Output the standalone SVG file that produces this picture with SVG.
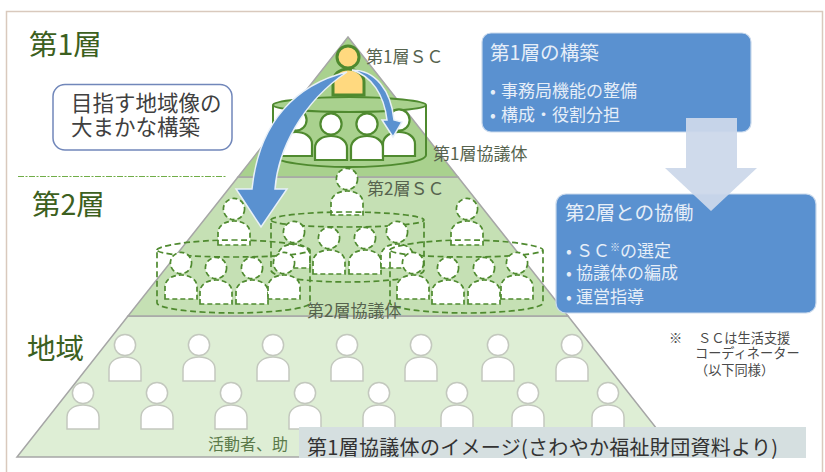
<svg xmlns="http://www.w3.org/2000/svg" width="825" height="472" viewBox="0 0 825 472">
<style>
text{font-family:"Noto Sans CJK JP","Noto Sans",sans-serif}
.s{fill:#fff;stroke:#4f8a2f;stroke-width:2.2}
.d{fill:#fff;stroke:#4f8a2f;stroke-width:1.7;stroke-dasharray:5 3}
.l{fill:#fff;stroke:#c3c8be;stroke-width:1.5}
.cs{fill:none;stroke:#4f8a2f;stroke-width:2}
.cd{fill:none;stroke:#4f8a2f;stroke-width:1.7;stroke-dasharray:6 3.5}
.lay{stroke:#a6a6a6;stroke-width:1.5}
.box{fill:#5a91d0;stroke:#c9d9ec;stroke-width:1.2}
.w{fill:#e6eef8;font-size:17px}
.h{fill:#e6eef8;font-size:19.6px}
.t{fill:#3c6020;font-size:28.5px}
.g{fill:#56634e;font-size:17px}
.n{fill:#4a4a4a;font-size:13.2px}
.blue{fill:#5a91d0;stroke:#e8f0f8;stroke-width:1.5}
</style>
<defs>
<g id="p"><circle r="10.6"/><path d="M-16,36V24C-16,16-8,12 0,12C8,12 16,16 16,24V36Z"/></g>
</defs>
<rect width="825" height="472" fill="#fff"/>
<path d="M6.5,472V11.5H822.5V472" fill="none" stroke="#d9c9bd" stroke-width="1.5"/>
<g id="pyramid">
<path class="lay" fill="#deeed5" d="M128,316H568L679,457H17Z"/>
<path class="lay" fill="#c5e0b4" d="M238,177H458L568,316H128Z"/>
<path class="lay" fill="#a9d18e" d="M348,37L458,177H238Z"/>
</g>
<path id="divider" d="M18,176.500H227" stroke="#70ad47" stroke-width="1" stroke-dasharray="6 1.500 2 1.500" fill="none"/>
<g id="tier3-people" class="l">
<g id="r1" class="l">
<use href="#p" x="125" y="345"/><use href="#p" x="199" y="345"/><use href="#p" x="273" y="345"/><use href="#p" x="347" y="345"/><use href="#p" x="421" y="345"/><use href="#p" x="498" y="345"/><use href="#p" x="572" y="345"/>
</g>
<g id="r2" class="l">
<use href="#p" x="83" y="393"/><use href="#p" x="157" y="393"/><use href="#p" x="231" y="393"/><use href="#p" x="305" y="393"/><use href="#p" x="379" y="393"/><use href="#p" x="457" y="393"/><use href="#p" x="528" y="393"/><use href="#p" x="608" y="393"/>
</g>
</g>
<g id="tier1-council">
<path fill="#a9d18e" d="M273,105C273,101 310,97 349.500,97S426,101 426,105C426,109 390,112 349.500,112S273,109 273,105Z"/>
<path class="cs" d="M273,105C273,101 310,97 349.500,97S426,101 426,105C426,109 390,112 349.500,112S273,109 273,105V155C273,162 310,167 349.500,167S426,162 426,155V105"/>
<g class="s">
<use href="#p" x="296" y="120"/><use href="#p" x="331" y="124"/><use href="#p" x="367" y="124"/><use href="#p" x="399" y="120"/>
</g>
</g>
<g id="sc1" style="fill:#ffd97f;stroke:#4f8a2f;stroke-width:3">
<circle cx="348" cy="57" r="11"/>
<path d="M333,95V82C333,74 340,69 348,69C356,69 364,74 364,82V95Z"/>
</g>
<g id="sc2" class="d"><use href="#p" x="347" y="179"/></g>
<g id="tier2-side" class="d"><use href="#p" x="234" y="209"/><use href="#p" x="467" y="209"/></g>
<g id="council-center">
<path class="cd" d="M271,220C271,216 305,212 347.500,212S424,216 424,220C424,224 390,227 347.500,227S271,224 271,220V270C271,277 305,282 347.500,282S424,277 424,270V220"/>
<g class="d"><use href="#p" x="294" y="232"/><use href="#p" x="329" y="238"/><use href="#p" x="365" y="238"/><use href="#p" x="397" y="232"/></g>
</g>
<g id="council-left">
<path class="cd" d="M157,250C157,246 191,240 233.500,240S310,246 310,250C310,254 276,257 233.500,257S157,254 157,250V303C157,308 191,313 233.500,313S310,308 310,303V250"/>
<g class="d"><use href="#p" x="181" y="263"/><use href="#p" x="216" y="268"/><use href="#p" x="252" y="268"/><use href="#p" x="284" y="263"/></g>
</g>
<g id="council-right">
<path class="cd" d="M390,250C390,246 424,240 466.500,240S543,246 543,250C543,254 509,257 466.500,257S390,254 390,250V303C390,308 424,313 466.500,313S543,308 543,303V250"/>
<g class="d"><use href="#p" x="413" y="263"/><use href="#p" x="448" y="268"/><use href="#p" x="484" y="268"/><use href="#p" x="517" y="263"/></g>
</g>
<g id="connectors">
<path class="blue" d="M347,72C298,84 259,120 252,189H236L261,227L287,189H275C278,150 302,102 347,72Z"/>
<path class="blue" d="M352,70C375,70 391,90 394,120L402,122L393,137L382,120H387C384,95 372,76 352,70Z"/>
</g>
<g id="labels">
<text class="t" x="29" y="55">第1層</text>
<text class="t" x="32" y="215">第2層</text>
<text class="t" x="27" y="359">地域</text>
<text class="g" x="366" y="63">第1層ＳＣ</text>
<text class="g" x="433" y="160">第1層協議体</text>
<text class="g" x="367" y="195">第2層ＳＣ</text>
<text class="g" x="307" y="317">第2層協議体</text>
<text x="208" y="450" fill="#5b7a4a" font-size="16px">活動者、助</text>
</g>
<g id="goal">
<rect x="53" y="84.500" width="179" height="65.500" rx="12" fill="#fff" stroke="#7187ba" stroke-width="1.500"/>
<text x="71" y="111" font-size="21.500px" fill="#404040">目指す地域像の</text>
<text x="71" y="135" font-size="21.500px" fill="#404040">大まかな構築</text>
</g>
<g id="box1">
<rect class="box" x="482" y="33" width="269" height="99" rx="9"/>
<text class="h" x="490" y="60">第1層の構築</text>
<text class="w" x="490" y="97">•<tspan x="501">事務局機能の整備</tspan></text>
<text class="w" x="490" y="121">•<tspan x="501">構成・役割分担</tspan></text>
</g>
<g id="box2">
<rect class="box" x="556" y="194" width="260" height="119" rx="10"/>
<text class="h" x="565" y="220">第2層との協働</text>
<text class="w" x="566" y="257">•<tspan x="576">ＳＣ</tspan><tspan font-size="10px" dy="-6">※</tspan><tspan dy="6">の選定</tspan></text>
<text class="w" x="566" y="279">•<tspan x="576">協議体の編成</tspan></text>
<text class="w" x="566" y="303">•<tspan x="576">運営指導</tspan></text>
</g>
<path id="flow-arrow" d="M686,118H737V168H757L711,211L665,168H686Z" fill="#ccd8ea" opacity=".95"/>
<g id="note">
<text class="n" x="669" y="343">※</text>
<text class="n" x="698" y="343">ＳＣは生活支援</text>
<text class="n" x="695" y="358">コーディネーター</text>
<text class="n" x="695" y="375">（以下同様）</text>
</g>
<g id="caption">
<rect x="299" y="427" width="507" height="31" fill="#d5dfe0"/>
<text x="307" y="455" font-size="20px" fill="#333" letter-spacing=".3">第1層協議体のイメージ(さわやか福祉財団資料より)</text>
</g>
</svg>
